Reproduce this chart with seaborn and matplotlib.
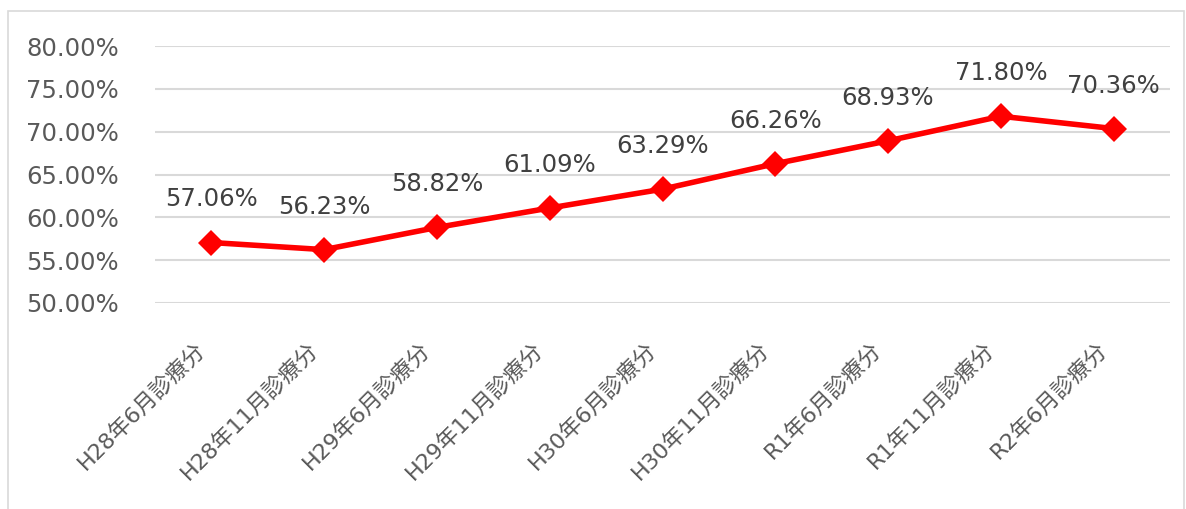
import numpy as np
import pandas as pd
import matplotlib
matplotlib.use("Agg")
import matplotlib.pyplot as plt
import matplotlib.transforms as mtransforms
from matplotlib.patches import Rectangle
import seaborn as sns

# Data
categories = ["H28年6月診療分", "H28年11月診療分", "H29年6月診療分", "H29年11月診療分",
              "H30年6月診療分", "H30年11月診療分", "R1年6月診療分", "R1年11月診療分",
              "R2年6月診療分"]
rates = [57.06, 56.23, 58.82, 61.09, 63.29, 66.26, 68.93, 71.80, 70.36]
y_ticks = [50, 55, 60, 65, 70, 75, 80]

sns.set_theme(style="white")
plt.rcParams["font.family"] = ["DejaVu Sans", "Noto Sans CJK JP"]

TEXT = "#595959"
GRID = "#D9D9D9"

df = pd.DataFrame({"pos": np.arange(len(categories)), "rate": rates})

fig = plt.figure(figsize=(11.86, 5.09), dpi=100)
fig.patch.set_facecolor("white")
ax = fig.add_axes([155 / 1186, 1 - 303 / 509, (1170 - 155) / 1186, (303 - 46) / 509])

# Outer chart border
fig.add_artist(Rectangle((8 / 1186, -0.01), (1184 - 8) / 1186, 1 - 11 / 509 + 0.01,
                         transform=fig.transFigure, fill=False, edgecolor=GRID,
                         linewidth=1.2, zorder=0))

sns.lineplot(data=df, x="pos", y="rate", ax=ax, sort=False, color="#FF0000",
             linewidth=4.0, marker="D", markersize=13.5, markeredgewidth=0,
             zorder=3)

for x, v in zip(df["pos"], df["rate"]):
    ax.annotate(f"{v:.2f}%", (x, v), xytext=(0, 31), textcoords="offset points",
                ha="center", va="center", fontsize=17.5, color="#404040")

ax.set_xlim(-0.5, len(categories) - 0.5)
ax.set_ylim(50, 80)
ax.set_yticks(y_ticks)
ax.set_yticklabels([f"{t:.2f}%" for t in y_ticks])
ax.set_xticks(df["pos"])
ax.set_xticklabels(categories)
ax.set_xlabel("")
ax.set_ylabel("")

ax.yaxis.grid(True, color=GRID, linewidth=1.5)
ax.xaxis.grid(False)
ax.set_axisbelow(True)
for s in ax.spines.values():
    s.set_visible(False)

ax.tick_params(axis="y", length=0, pad=26, labelsize=17.5, labelcolor=TEXT)
ax.tick_params(axis="x", length=0, pad=0, labelsize=16, labelcolor=TEXT)

shift = mtransforms.ScaledTranslation(-17 / 100, -36 / 100, fig.dpi_scale_trans)
for lbl in ax.get_xticklabels():
    lbl.set_rotation(45)
    lbl.set_rotation_mode("anchor")
    lbl.set_ha("right")
    lbl.set_va("top")
    lbl.set_transform(lbl.get_transform() + shift)

fig.savefig("out.png", dpi=100, facecolor="white")
